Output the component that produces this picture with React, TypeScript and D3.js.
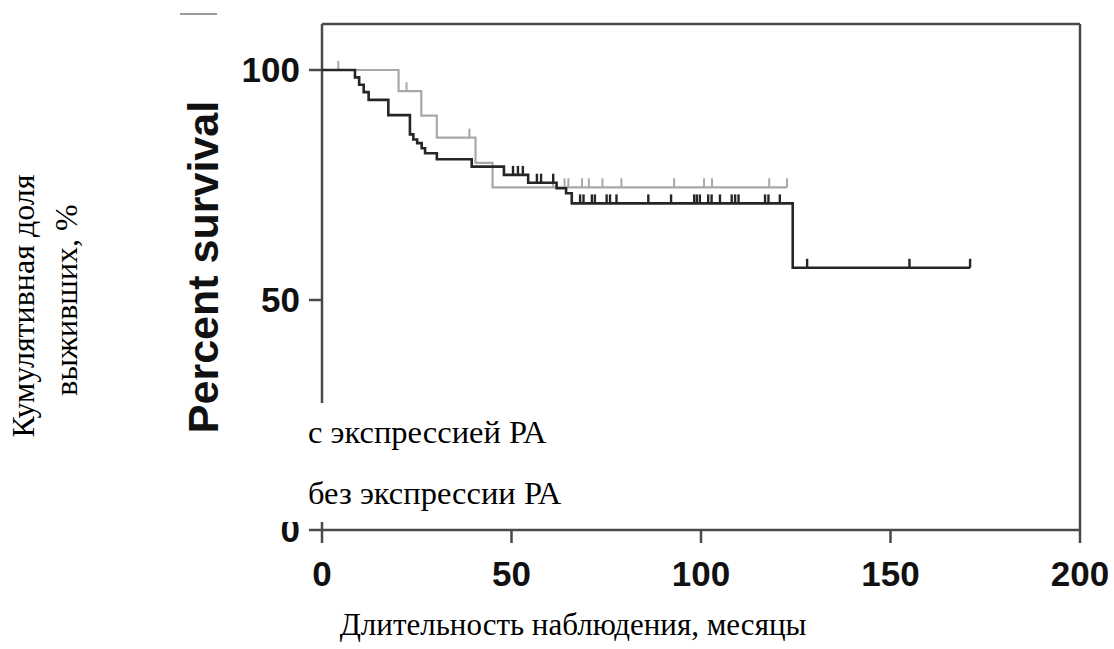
import React from "react";
import * as d3 from "d3";

// ---- data ----
const xTicks = [0, 50, 100, 150, 200];
const yTicks = [0, 50, 100];

// Black curve (step events: time in months, percent surviving after event)
const blackTimes = [0, 8.7, 9.8, 11, 12.3, 17.5, 23.2, 24.1, 25.1, 26.3, 27.2, 30.3, 39.5, 48, 54.4, 61.9, 64.4, 65.9, 124.2];
const blackSurv = [100, 98.4, 96.8, 95.2, 93.5, 90.2, 86.0, 84.9, 84.1, 83.0, 81.9, 80.6, 79.0, 77.2, 75.5, 74.3, 73.2, 71.0, 57.0];
const blackEnd = 171;
const blackCensor = [50.4, 51.7, 53, 56.7, 57.8, 61, 68.1, 69, 71.2, 72, 75.1, 76, 77.7, 86.1, 92.1, 98.2, 98.9, 99.7, 101.9, 102.8, 105, 108.1, 109, 109.9, 116.9, 117.8, 120.8, 128, 155, 171];

// Gray curve
const grayTimes = [0, 20.2, 26.2, 30.3, 40.5, 45];
const graySurv = [100, 95.4, 90.1, 85.3, 79.8, 74.5];
const grayEnd = 122.7;
const grayCensor = [4.3, 22.3, 38.9, 61, 64, 65, 68.6, 70.4, 74, 79, 92.9, 100.8, 102.9, 118, 122.7];

const legendLabels = ["с экспрессией РА", "без экспрессии РА"];
const xTitle = "Длительность наблюдения, месяцы";
const yTitleLines = ["Кумулятивная доля", "выживших, %"];
const innerYTitle = "Percent survival";

// ---- layout ----
const W = 1114;
const H = 649;
const x = d3.scaleLinear().domain([0, 200]).range([322, 1080]);
const y = d3.scaleLinear().domain([0, 110]).range([530, 24]);

function survAt(times: number[], surv: number[], t: number) {
  let v = surv[0];
  for (let i = 0; i < times.length; i++) if (times[i] <= t) v = surv[i];
  return v;
}

function stepPath(times: number[], surv: number[], end: number) {
  const pts: [number, number][] = times.map((t, i) => [t, surv[i]]);
  pts.push([end, surv[surv.length - 1]]);
  const line = d3
    .line<[number, number]>()
    .x((d) => x(d[0]))
    .y((d) => y(d[1]))
    .curve(d3.curveStepAfter);
  return line(pts) || "";
}

const axisColor = "#4a4a4a";
const sans = "'Liberation Sans', Arial, Helvetica, sans-serif";
const serif = "'Liberation Serif', 'Times New Roman', serif";

export default function App() {
  const blackD = stepPath(blackTimes, blackSurv, blackEnd);
  const grayD = stepPath(grayTimes, graySurv, grayEnd);
  const censorLen = 9;
  return (
    <svg
      width={W}
      height={H}
      viewBox={`0 0 ${W} ${H}`}
      style={{ position: "absolute", left: 0, top: 0, background: "#fff" }}
    >
      <rect x={0} y={0} width={W} height={H} fill="#fff" />
      {/* stray gray mark top-left */}
      <line x1={180} x2={217} y1={14} y2={14} stroke="#9a9a9a" strokeWidth={2} />

      {/* frame */}
      <line x1={x(0)} x2={x(200)} y1={y(110)} y2={y(110)} stroke={axisColor} strokeWidth={2.5} />
      <line x1={x(200)} x2={x(200)} y1={y(110)} y2={y(0)} stroke={axisColor} strokeWidth={2.5} />

      {/* y axis */}
      <line x1={x(0)} x2={x(0)} y1={y(110)} y2={y(0)} stroke={axisColor} strokeWidth={2.5} />
      {yTicks.map((t) => (
        <g key={"yt" + t}>
          <line x1={x(0) - 13} x2={x(0)} y1={y(t)} y2={y(t)} stroke={axisColor} strokeWidth={2.5} />
          <text
            x={x(0) - 22}
            y={y(t) + 12}
            textAnchor="end"
            fontFamily={sans}
            fontWeight="bold"
            fontSize={35}
            fill="#111"
          >
            {t}
          </text>
        </g>
      ))}

      {/* x axis */}
      <line x1={x(0)} x2={x(200)} y1={y(0)} y2={y(0)} stroke={axisColor} strokeWidth={2.5} />
      {xTicks.map((t) => (
        <g key={"xt" + t}>
          <line x1={x(t)} x2={x(t)} y1={y(0)} y2={y(0) + 13} stroke={axisColor} strokeWidth={2.5} />
          <text
            x={x(t)}
            y={y(0) + 56}
            textAnchor="middle"
            fontFamily={sans}
            fontWeight="bold"
            fontSize={35}
            fill="#111"
          >
            {t}
          </text>
        </g>
      ))}

      {/* curves */}
      <path d={grayD} fill="none" stroke="#a8a8a8" strokeWidth={2.2} />
      {grayCensor.map((t, i) => {
        const v = survAt(grayTimes, graySurv, t);
        return (
          <line
            key={"gc" + i}
            x1={x(t)}
            x2={x(t)}
            y1={y(v)}
            y2={y(v) - censorLen}
            stroke="#a8a8a8"
            strokeWidth={2}
          />
        );
      })}
      <path d={blackD} fill="none" stroke="#262626" strokeWidth={2.6} />
      {blackCensor.map((t, i) => {
        const v = survAt(blackTimes, blackSurv, t);
        return (
          <line
            key={"bc" + i}
            x1={x(t)}
            x2={x(t)}
            y1={y(v)}
            y2={y(v) - censorLen}
            stroke="#262626"
            strokeWidth={2.4}
          />
        );
      })}

      {/* inner y title */}
      <text
        transform={`translate(218,267) rotate(-90)`}
        textAnchor="middle"
        fontFamily={sans}
        fontWeight="bold"
        fontSize={43}
        fill="#111"
      >
        {innerYTitle}
      </text>

      {/* white overlay box with legend labels */}
      <rect x={250} y={403} width={370} height={119} fill="#fff" />
      <text x={308} y={443} fontFamily={serif} fontSize={32.5} fill="#000">
        {legendLabels[0]}
      </text>
      <text x={308} y={504} fontFamily={serif} fontSize={32.5} fill="#000">
        {legendLabels[1]}
      </text>

      {/* outer titles */}
      <text x={573} y={635} textAnchor="middle" fontFamily={serif} fontSize={31} fill="#000">
        {xTitle}
      </text>
      <text
        transform={`translate(34,306) rotate(-90)`}
        textAnchor="middle"
        fontFamily={serif}
        fontSize={32}
        fill="#000"
      >
        {yTitleLines[0]}
      </text>
      <text
        transform={`translate(77,300) rotate(-90)`}
        textAnchor="middle"
        fontFamily={serif}
        fontSize={32}
        fill="#000"
      >
        {yTitleLines[1]}
      </text>
    </svg>
  );
}
